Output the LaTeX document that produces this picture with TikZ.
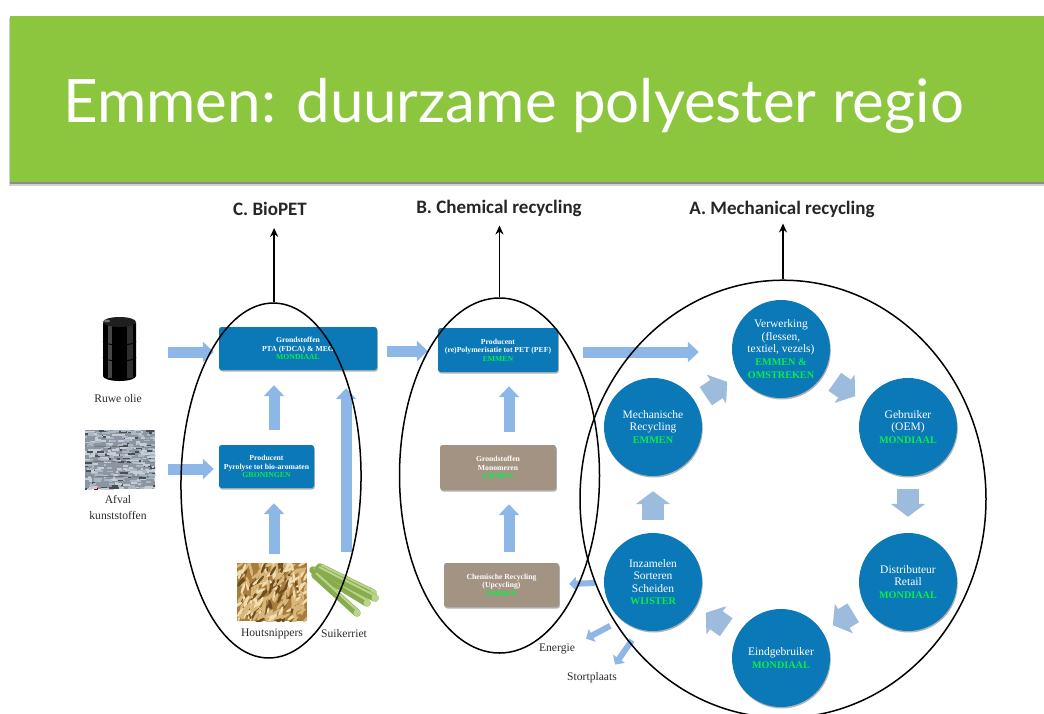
\documentclass[tikz,border=0pt]{standalone}
\usepackage{fontspec}
\setmainfont{Liberation Serif}
\newfontfamily\titlefont{Lato}
\newfontfamily\headfont{Carlito}
\usetikzlibrary{shapes.geometric,arrows.meta,calc,shadows}
\definecolor{band}{HTML}{8CC63F}
\definecolor{nodeblue}{HTML}{0B78B8}
\definecolor{taupe}{HTML}{A39382}
\definecolor{flow}{HTML}{8DB7E6}
\definecolor{cycle}{HTML}{9DBBDD}
\definecolor{place}{HTML}{08EE48}
\definecolor{capt}{HTML}{2A2A2A}
\definecolor{cane}{HTML}{86AC4E}
\definecolor{canelight}{HTML}{BBD48C}
\definecolor{chipbase}{HTML}{A87C3C}
\definecolor{chipdark}{HTML}{6E4E1E}
\definecolor{chiptan}{HTML}{D9B67A}
\definecolor{chipcream}{HTML}{F0DDB0}
\definecolor{balea}{HTML}{8C95A0}
\definecolor{baleb}{HTML}{C6CDD4}
\definecolor{balec}{HTML}{4A4F55}
\definecolor{baled}{HTML}{A9B8C6}
\tikzset{
  softshadow/.style={drop shadow={shadow xshift=0.8pt,shadow yshift=-1.5pt,opacity=.3,fill=black}},
  boxbase/.style={rounded corners=2.5pt,align=center,text=white,inner sep=0pt,softshadow,font=\fontsize{7.7}{8.6}\selectfont\bfseries},
  bluebox/.style={boxbase,fill=nodeblue},
  greybox/.style={boxbase,fill=taupe},
  stage/.style={circle,fill=nodeblue,minimum size=98pt,inner sep=0pt,align=center,text=white,softshadow,font=\fontsize{11.5}{12.6}\selectfont},
  zone/.style={ellipse,draw=black,line width=1.5pt,inner sep=0pt},
  head/.style={font=\headfont\fontsize{19}{21}\selectfont\bfseries,text=black!85,inner sep=1pt},
  caption/.style={font=\fontsize{11.6}{16}\selectfont,text=capt,align=center,inner sep=0pt},
  outarrow/.style={-{Stealth[length=9pt,width=8pt]},line width=1.6pt,black},
  fat/.style={line width=11pt,draw=flow,-{Triangle[length=11pt,width=20pt]}},
  slim/.style={line width=6pt,draw=flow,-{Triangle[length=7pt,width=14pt]}},
  wide/.style={line width=22pt,draw=cycle,-{Triangle[length=13pt,width=34pt]}},
}
\newcommand{\plc}[1]{\textcolor{place}{\fontsize{10.2}{12.6}\selectfont\bfseries #1}}
\newcommand{\plb}[1]{\textcolor{place}{#1}}
\begin{document}
\begin{tikzpicture}[x=1pt,y=-1pt]
\useasboundingbox (0,0) rectangle (1044,713);
\begin{scope}
\clip (0,0) rectangle (1044,713);
% title band
\fill[black!18] (8.5,18) rectangle (1044,186);
\fill[black!45] (9.5,18) rectangle (1044,184);
\node[fill=band,minimum width=1034pt,minimum height=166pt,anchor=north west,inner sep=0pt] (band) at (10,16) {};
\node[anchor=base west,text=white,inner sep=0pt,font=\titlefont\fontsize{60}{66}\selectfont] (title) at (63,122) {Emmen: duurzame polyester regio};

% headers
\node[head] (hc) at (270,209) {C. BioPET};
\node[head] (hb) at (499,208) {B. Chemical recycling};
\node[head] (ha) at (782,209) {A. Mechanical recycling};

% boxes
\node[bluebox,minimum width=158pt,minimum height=43pt] (grond) at (298,348.5)
  {Grondstoffen\\PTA (FDCA) \& MEG\\\plb{MONDIAAL}};
\node[bluebox,minimum width=95pt,minimum height=43pt] (pyro) at (266.5,466.5)
  {Producent\\Pyrolyse tot bio-aromaten\\\plb{GRONINGEN}};
\node[bluebox,minimum width=120pt,minimum height=44pt] (poly) at (498,350)
  {Producent\\(re)Polymerisatie tot PET (PEF)\\\plb{EMMEN}};
\node[greybox,minimum width=116pt,minimum height=45pt] (mono) at (498,467.5)
  {Grondstoffen\\Monomeren\\\plb{EMMEN}};
\node[greybox,minimum width=115pt,minimum height=44pt] (chem) at (501.5,585)
  {Chemische Recycling\\(Upcycling)\\\plb{EMMEN}};

% stages
\node[stage] (verw) at (781,349) {Verwerking\\(flessen,\\textiel, vezels)\\\plc{EMMEN \&}\\\plc{OMSTREKEN}};
\node[stage] (gebr) at (908,427) {Gebruiker\\(OEM)\\\plc{MONDIAAL}};
\node[stage] (dist) at (908,582) {Distributeur\\Retail\\\plc{MONDIAAL}};
\node[stage] (eind) at (781,658) {Eindgebruiker\\\plc{MONDIAAL}};
\node[stage] (inza) at (653,582) {Inzamelen\\Sorteren\\Scheiden\\\plc{WIJSTER}};
\node[stage] (mech) at (653,427) {Mechanische\\Recycling\\\plc{EMMEN}};

% oil barrel
\fill[black] (103,323) -- (103,376) arc[start angle=180,end angle=360,x radius=16.5pt,y radius=5pt] -- (136,323) -- cycle;
\fill[white,opacity=.28] (108,325) rectangle (112,378);
\fill[white,opacity=.18] (127,325) rectangle (133,378);
\fill[black!88] (119.5,322) ellipse[x radius=16.5pt,y radius=5pt];
\fill[black!55] (107,321) ellipse[x radius=3pt,y radius=1.3pt];
\draw[black,line width=.9pt] (103,341) arc[start angle=180,end angle=360,x radius=16.5pt,y radius=4pt];
\draw[black,line width=.9pt] (103,357) arc[start angle=180,end angle=360,x radius=16.5pt,y radius=4pt];
\node[caption] (olie) at (118,399) {Ruwe olie};

% waste bale
\fill[balea] (85,430) rectangle (155,489);
\begin{scope}
\clip (85,430) rectangle (155,489);
\pgfmathsetseed{42}
\foreach \i in {1,...,380}{
  \pgfmathsetmacro{\px}{84+rnd*70}
  \pgfmathsetmacro{\py}{429+rnd*59}
  \pgfmathsetmacro{\pl}{2+rnd*6}
  \pgfmathsetmacro{\pb}{rnd}
  \ifdim\pb pt<.006pt\def\tone{red!55!black}\else\ifdim\pb pt<.2pt\def\tone{balec}\else\ifdim\pb pt<.6pt\def\tone{baleb}\else\def\tone{baled}\fi\fi\fi
  \fill[\tone] (\px,\py) rectangle ++(\pl,1.9);
}
\end{scope}
\foreach \yy in {446,461,476}{\draw[black!70,line width=.7pt,opacity=.5] (85,\yy) -- (155,\yy+1);}
\node[caption] (afval) at (118,507) {Afval\\kunststoffen};

% wood chips
\fill[chipbase] (237,563) rectangle (307,621);
\begin{scope}
\clip (237,563) rectangle (307,621);
\pgfmathsetseed{7}
\foreach \i in {1,...,240}{
  \pgfmathsetmacro{\px}{237+rnd*70}
  \pgfmathsetmacro{\py}{563+rnd*58}
  \pgfmathsetmacro{\pa}{20+rnd*90}
  \pgfmathsetmacro{\ps}{rnd}
  \ifdim\ps pt<.22pt\def\chip{chipdark}\else\ifdim\ps pt<.7pt\def\chip{chiptan}\else\def\chip{chipcream}\fi\fi
  \fill[\chip,rotate around={\pa:(\px,\py)}] (\px,\py) ellipse[x radius=5.5pt,y radius=1.4pt];
}
\end{scope}
\node[caption] (hout) at (272,634) {Houtsnippers};

% sugar cane
\foreach \ax/\ay/\bx/\by in {320/567/373/593,313/570/367/603,315/575/357/613,318/569/375/598}{
  \draw[line width=7.5pt,draw=cane,line cap=round] (\ax,\ay) -- (\bx,\by);
  \draw[line width=2pt,draw=canelight] (\ax+1,\ay-2) -- (\bx+1,\by-2);
  \fill[canelight] (\bx,\by) circle[radius=3.5pt];
}
\node[caption] (suik) at (344,634) {Suikerriet};

\node[caption] (ener) at (557,649) {Energie};
\node[caption] (stort) at (592,678) {Stortplaats};

% flow arrows
\draw[fat] ($(grond.west)+(-51,3.5)$) -- ($(grond.west)+(-5,3.5)$);
\draw[fat] ($(pyro.west)+(-51,2.5)$) -- ($(pyro.west)+(-5,2.5)$);
\draw[fat] ($(pyro.north)+(7.5,-15)$) -- ($(grond.south)+(-24,15)$);
\draw[fat] ($(hout.north)+(2,-75)$) -- ($(pyro.south)+(7.5,15)$) ;
\draw[fat] ($(suik.north)+(2,-78)$) -- ($(grond.south)+(48,18)$);
\draw[fat] ($(grond.east)+(10,2.5)$) -- ($(poly.west)+(-10,1)$);
\draw[fat] ($(mono.north)+(11,-13)$) -- ($(poly.south)+(11,14)$);
\draw[fat] ($(chem.north)+(7.5,-11)$) -- ($(mono.south)+(11,14)$);
\draw[fat] ($(poly.east)+(25,2)$) -- ($(verw.west)+(-33,3)$);
\draw[slim] ($(inza.west)+(-9,1)$) -- ($(chem.east)+(10,-1)$);
\draw[slim] ($(inza.south west)+(-8,9)$) -- ($(ener.north)+(29,-5)$);
\draw[slim] ($(inza.south)+(-21,9)$) -- ($(stort.north)+(23,-8)$);

% cycle arrows
\draw[wide] ($(mech.north east)+(18,4)$) -- ($(verw.south west)+(-19,-2)$);
\draw[wide] ($(verw.south east)+(19,-2)$) -- ($(gebr.north west)+(-18,4)$);
\draw[wide] ($(gebr.south)+(0,13)$) -- ($(dist.north)+(0,-16)$);
\draw[wide] ($(dist.south west)+(-20,-4)$) -- ($(eind.north east)+(17,2)$);
\draw[wide] ($(eind.north west)+(-20,4)$) -- ($(inza.south east)+(18,-4)$);
\draw[wide] ($(inza.north)+(0,-13)$) -- ($(mech.south)+(0,15)$);

% zones
\node[zone,rotate=-1,minimum width=180pt,minimum height=355pt] (zc) at (271,480.5) {};
\node[zone,minimum width=200pt,minimum height=355pt] (zb) at (499.5,475.5) {};
\node[zone,minimum width=406pt,minimum height=437.6pt] (za) at (783,499) {};
\draw[outarrow,shorten >=11pt] (zc.north) -- (zc.north |- hc.south);
\draw[outarrow,shorten >=8pt] (zb.north) -- (zb.north |- hb.south);
\draw[outarrow,shorten >=5pt] (za.north) -- (za.north |- ha.south);
\end{scope}
\end{tikzpicture}
\end{document}
